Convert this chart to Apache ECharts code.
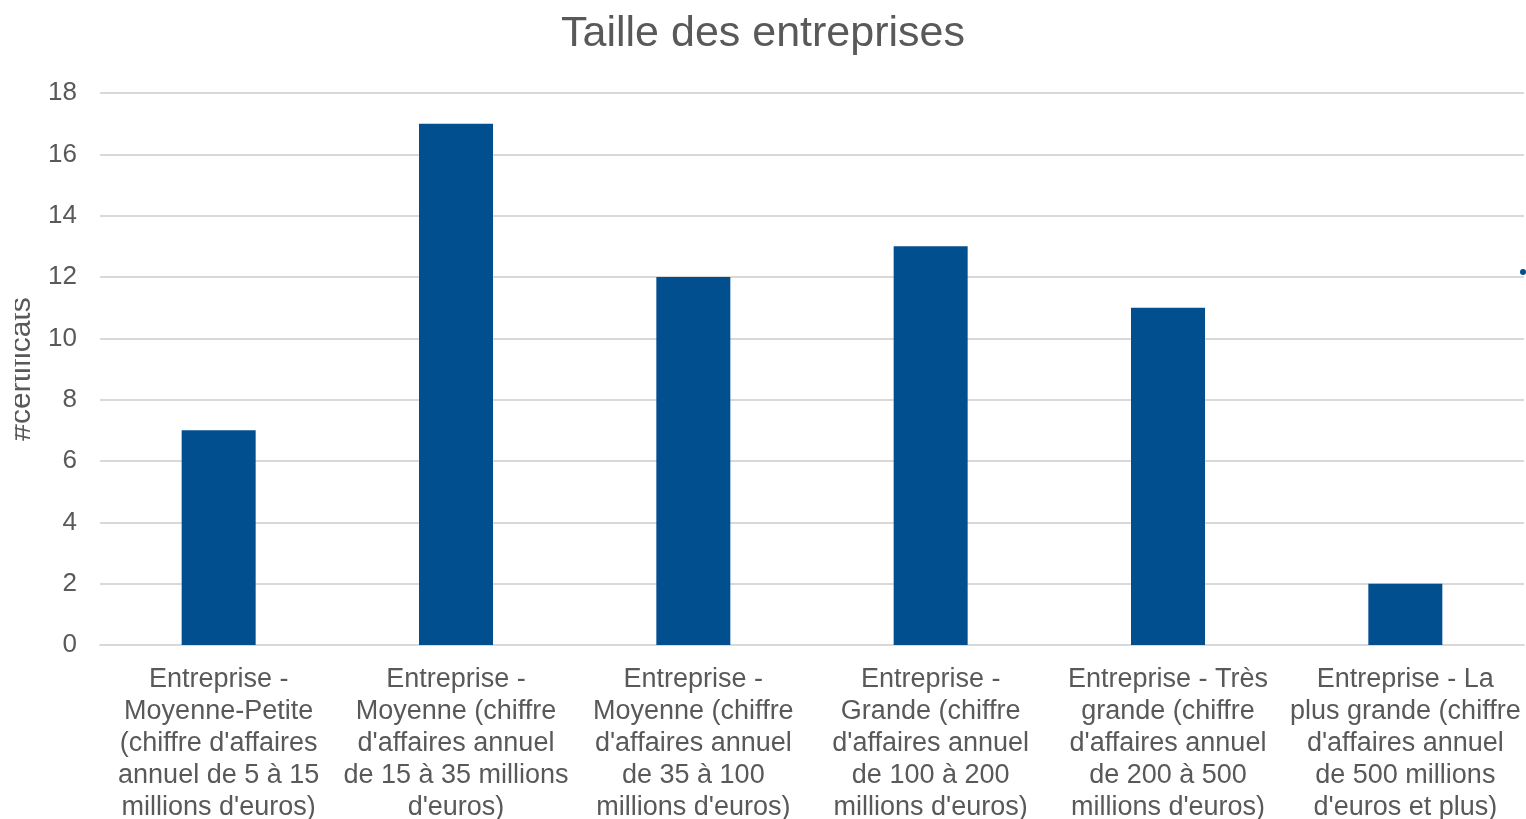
<!DOCTYPE html>
<html>
<head>
<meta charset="utf-8">
<title>Taille des entreprises</title>
<script src="https://cdn.jsdelivr.net/npm/echarts@6/dist/echarts.min.js"></script>
<style>
  html, body { margin: 0; padding: 0; background: #fff; }
  #chart { width: 1526px; height: 819px; }
</style>
</head>
<body>
<div id="chart"></div>
<script>
// categories (line breaks as in the original labels)
const categories = [
  'Entreprise -\nMoyenne-Petite\n(chiffre d\'affaires\nannuel de 5 à 15\nmillions d\'euros)',
  'Entreprise -\nMoyenne (chiffre\nd\'affaires annuel\nde 15 à 35 millions\nd\'euros)',
  'Entreprise -\nMoyenne (chiffre\nd\'affaires annuel\nde 35 à 100\nmillions d\'euros)',
  'Entreprise -\nGrande (chiffre\nd\'affaires annuel\nde 100 à 200\nmillions d\'euros)',
  'Entreprise - Très\ngrande (chiffre\nd\'affaires annuel\nde 200 à 500\nmillions d\'euros)',
  'Entreprise - La\nplus grande (chiffre\nd\'affaires annuel\nde 500 millions\nd\'euros et plus)'
]
const certificats = [7, 17, 12, 13, 11, 2]
const yMin = 0
const yMax = 18
const yStep = 2

const textColor = '#595959'
const gridColor = '#d9d9d9'
const font = '"Liberation Sans", Arial, sans-serif'

const chart = echarts.init(document.getElementById('chart'))
chart.setOption({
  animation: false,
  textStyle: { fontFamily: font },
  title: {
    text: 'Taille des entreprises',
    left: 'center',
    top: 8,
    textStyle: {
      color: textColor,
      fontSize: 43,
      fontWeight: 'normal',
      fontFamily: font
    }
  },
  grid: {
    left: 100,
    right: 2,
    top: 93,
    bottom: 174,
    containLabel: false,
    outerBoundsMode: 'none'
  },
  xAxis: {
    type: 'category',
    data: categories,
    axisTick: { show: false },
    axisLine: {
      lineStyle: { color: gridColor, width: 2 }
    },
    axisLabel: {
      interval: 0,
      margin: 19,
      color: textColor,
      fontSize: 27,
      lineHeight: 32,
      fontFamily: font
    }
  },
  yAxis: {
    type: 'value',
    min: yMin,
    max: yMax,
    interval: yStep,
    name: '#certificats',
    nameLocation: 'middle',
    nameRotate: 90,
    nameGap: 62,
    nameTextStyle: {
      color: textColor,
      fontSize: 30,
      fontFamily: font
    },
    axisLine: { show: false },
    axisTick: { show: false },
    axisLabel: {
      margin: 23,
      color: textColor,
      fontSize: 26,
      fontFamily: font
    },
    splitLine: {
      lineStyle: { color: gridColor, width: 2 }
    }
  },
  series: [
    {
      name: '#certificats',
      type: 'bar',
      data: certificats,
      barWidth: 74,
      itemStyle: { color: '#024f90' }
    }
  ],
  graphic: [
    // the original picture is cropped on its left edge
    { type: 'rect', left: 0, top: 280, shape: { width: 15, height: 180 }, style: { fill: '#fff' }, z: 100 },
    { type: 'circle', left: 1520, top: 269, shape: { r: 3 }, style: { fill: '#024f90' } }
  ]
})
</script>
</body>
</html>
